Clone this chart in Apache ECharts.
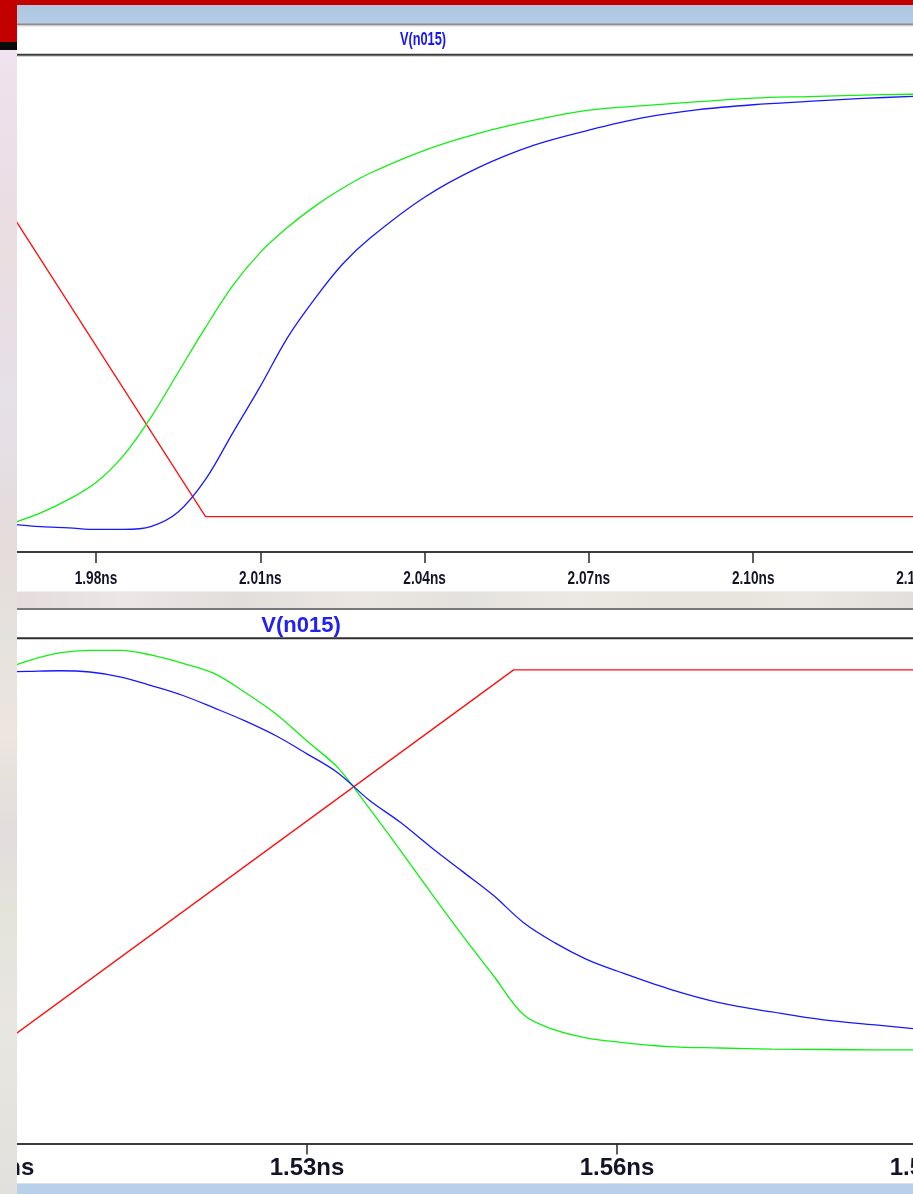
<!DOCTYPE html>
<html>
<head>
<meta charset="utf-8">
<title>V(n015)</title>
<script src="https://cdn.jsdelivr.net/npm/echarts@6/dist/echarts.min.js"></script>
<style>
  html, body { margin: 0; padding: 0; overflow: hidden; background: #ffffff; }
  #chart { position: absolute; left: 0; top: 0; width: 913px; height: 1194px; }
</style>
</head>
<body>
<div id="chart"></div>
<script>
// ---- Rising edge of the output (times in ps, voltages in V) ----
const riseTime = [1964, 1970, 1975, 1980, 1985, 1990, 1995, 2000, 2005, 2010, 2015, 2020,
                  2025, 2030, 2040, 2050, 2060, 2070, 2080, 2090, 2100, 2110, 2120, 2130];
const riseGreen = [-0.034, 0.017, 0.073, 0.145, 0.260, 0.422, 0.614, 0.806, 0.985, 1.126, 1.233, 1.323,
                   1.399, 1.463, 1.561, 1.634, 1.689, 1.732, 1.751, 1.768, 1.783, 1.790, 1.796, 1.800];
const riseBlue = [-0.032, -0.043, -0.048, -0.055, -0.055, -0.043, 0.019, 0.158, 0.358, 0.555, 0.764, 0.930,
                  1.075, 1.186, 1.361, 1.489, 1.583, 1.647, 1.700, 1.734, 1.755, 1.769, 1.782, 1.791];
const riseInTime = [1950, 2000, 2160];
const riseIn = [1.82, 0, 0];

// ---- Falling edge of the output ----
const fallTime = [1500, 1503, 1506, 1509, 1512, 1515, 1518, 1521, 1524, 1527, 1530, 1533, 1536, 1539,
                  1542, 1545, 1548, 1551, 1554, 1557, 1560, 1565, 1570, 1575, 1580, 1585, 1590];
const fallGreen = [1.790, 1.843, 1.881, 1.893, 1.893, 1.870, 1.831, 1.783, 1.693, 1.590, 1.461, 1.333, 1.142, 0.942,
                   0.737, 0.537, 0.346, 0.155, 0.084, 0.046, 0.027, 0.005, -0.002, -0.007, -0.009, -0.011, -0.011];
const fallBlue = [1.790, 1.793, 1.796, 1.790, 1.766, 1.724, 1.678, 1.619, 1.557, 1.486, 1.400, 1.309, 1.180, 1.075,
                  0.955, 0.841, 0.727, 0.594, 0.499, 0.422, 0.365, 0.280, 0.213, 0.170, 0.132, 0.108, 0.084];
const fallInTime = [1500, 1550, 1600];
const fallIn = [0, 1.8, 1.8];

// Axis ticks (ps) and title
const tickStepPs = 30;
const riseAxis = { min: 1950, max: 2160 };
const fallAxis = { min: 1500, max: 1590 };
const riseTicks = [1950, 1980, 2010, 2040, 2070, 2100, 2130, 2160];
const traceName = 'V(n015)';

const zip = (t, v) => t.map((x, i) => [x, v[i]]);
const nsLabel = v => (v / 1000).toFixed(2) + 'ns';

const RED = '#ff1010', GREEN = '#10f010', BLUE = '#1818ff';
const sans = "'Liberation Sans', Arial, sans-serif";

function line(name, data, color, xi) {
  return {
    type: 'line', name, data, xAxisIndex: xi, yAxisIndex: xi,
    showSymbol: false, smooth: 0.35, animation: false,
    lineStyle: { color, width: 1.3 }, emphasis: { disabled: true }
  };
}
function edge(name, data, color, xi) {
  const s = line(name, data, color, xi);
  s.smooth = false;
  return s;
}

const hLine = (y, color, w, x1 = 17, x2 = 913) => ({
  type: 'line', shape: { x1, y1: y, x2, y2: y }, style: { stroke: color, lineWidth: w }, silent: true, z: 50
});

const timeAxis = (gridIndex, range, label) => ({
  gridIndex, type: 'value', min: range.min, max: range.max, interval: tickStepPs,
  axisLine: { onZero: false, lineStyle: { color: '#3c3c3c', width: 2 } },
  axisTick: { length: 11, lineStyle: { color: '#2a2a2a', width: 1.5 } },
  splitLine: { show: false },
  axisLabel: label
});

const chart = echarts.init(document.getElementById('chart'), null, { renderer: 'canvas' });
chart.setOption({
  animation: false,
  backgroundColor: '#ffffff',
  grid: [
    { left: -68.3, right: -168.8, top: 55, bottom: 1194 - 552, outerBoundsMode: 'none', containLabel: false },
    { left: -3, right: -14, top: 638, bottom: 1194 - 1143.5, outerBoundsMode: 'none', containLabel: false }
  ],
  xAxis: [
    // upper pane: labels are drawn as condensed text further below
    timeAxis(0, riseAxis, { show: false }),
    timeAxis(1, fallAxis, {
      formatter: nsLabel, margin: 13, showMinLabel: true, showMaxLabel: true,
      fontFamily: sans, fontSize: 24, fontWeight: 'bold', color: '#141428'
    })
  ],
  yAxis: [
    { gridIndex: 0, type: 'value', min: -0.151, max: 1.967, show: false, splitLine: { show: false } },
    { gridIndex: 1, type: 'value', min: -0.457, max: 1.952, show: false, splitLine: { show: false } }
  ],
  series: [
    edge('in-rise', zip(riseInTime, riseIn), RED, 0),
    line('V(n015)', zip(riseTime, riseGreen), GREEN, 0),
    line('out-rise', zip(riseTime, riseBlue), BLUE, 0),
    edge('in-fall', zip(fallInTime, fallIn), RED, 1),
    line('V(n015) ', zip(fallTime, fallGreen), GREEN, 1),
    line('out-fall', zip(fallTime, fallBlue), BLUE, 1)
  ]
});

// Condensed tick labels of the upper time axis, placed through the axis scale
const axisBottomY = chart.convertToPixel({ yAxisIndex: 0 }, -0.151);
const riseLabels = riseTicks.map(v => ({
  type: 'text',
  x: chart.convertToPixel({ xAxisIndex: 0 }, v),
  y: axisBottomY + 27,
  scaleX: 0.76,
  style: { text: nsLabel(v), fill: '#141428', font: 'bold 18px ' + sans, align: 'center', verticalAlign: 'middle' },
  silent: true, z: 40
}));

chart.setOption({
  graphic: [
    ...riseLabels,
    // window chrome above the upper pane
    { type: 'rect', shape: { x: 0, y: 0, width: 913, height: 5 }, style: { fill: '#c20000' }, z: 50, silent: true },
    { type: 'rect', shape: { x: 17, y: 5, width: 896, height: 19 },
      style: { fill: new echarts.graphic.LinearGradient(0, 0, 0, 1, [
        { offset: 0, color: '#aec6e0' }, { offset: 1, color: '#b6cce6' }]) }, z: 50, silent: true },
    hLine(24.5, '#8c8c8c', 2),
    hLine(26, '#d8d8d8', 1),
    hLine(54.8, '#3a3a3a', 2),
    hLine(56.5, '#d6d6d6', 1),
    { type: 'text', x: 423, y: 40, scaleX: 0.8, scaleY: 1.12,
      style: { text: traceName, fill: '#1414ff', font: 'bold 16px ' + sans, align: 'center', verticalAlign: 'middle' },
      z: 50, silent: true },

    // gap between the panes
    { type: 'rect', shape: { x: 17, y: 592, width: 896, height: 16 },
      style: { fill: new echarts.graphic.LinearGradient(0, 0, 1, 0, [
        { offset: 0, color: '#e4dcdc' }, { offset: 0.12, color: '#ece6e6' }, { offset: 0.25, color: '#e2dedb' },
        { offset: 0.38, color: '#ebe6e2' }, { offset: 0.5, color: '#e4e2de' }, { offset: 0.62, color: '#ece9e4' },
        { offset: 0.75, color: '#e6e4dc' }, { offset: 0.88, color: '#ebe7e2' }, { offset: 1, color: '#e2dfdc' }]) },
      z: 50, silent: true },
    hLine(591.5, '#f0f0f0', 1),
    hLine(609, '#4a4a4a', 1.5),
    hLine(638.2, '#2e2e2e', 2),
    { type: 'text', x: 301, y: 626,
      style: { text: traceName, fill: '#2222ee', font: 'bold 22px ' + sans, align: 'center', verticalAlign: 'middle' },
      z: 50, silent: true },

    // bottom edge
    hLine(1183.5, '#e0e0e0', 1),
    { type: 'rect', shape: { x: 17, y: 1184, width: 896, height: 10 }, style: { fill: '#b8d0ea' }, z: 50, silent: true },

    // slide margin on the left
    { type: 'rect', shape: { x: 0, y: 0, width: 17, height: 42 }, style: { fill: '#c20000' }, z: 100, silent: true },
    { type: 'rect', shape: { x: 0, y: 42, width: 17, height: 8 }, style: { fill: '#0a0a0a' }, z: 100, silent: true },
    { type: 'rect', shape: { x: 0, y: 50, width: 17, height: 1144 },
      style: { fill: new echarts.graphic.LinearGradient(0, 0, 0, 1, [
        { offset: 0, color: '#f0e2ee' }, { offset: 0.08, color: '#ecdfe8' }, { offset: 0.18, color: '#e9dde0' },
        { offset: 0.3, color: '#e6e0e8' }, { offset: 0.42, color: '#e4dcdc' }, { offset: 0.52, color: '#e6e2dc' },
        { offset: 0.6, color: '#ece6de' }, { offset: 0.68, color: '#e2dcdc' }, { offset: 0.76, color: '#e4e4da' },
        { offset: 0.86, color: '#e8e6e0' }, { offset: 1, color: '#e2e0dc' }]) },
      z: 100, silent: true }
  ]
});
</script>
</body>
</html>
